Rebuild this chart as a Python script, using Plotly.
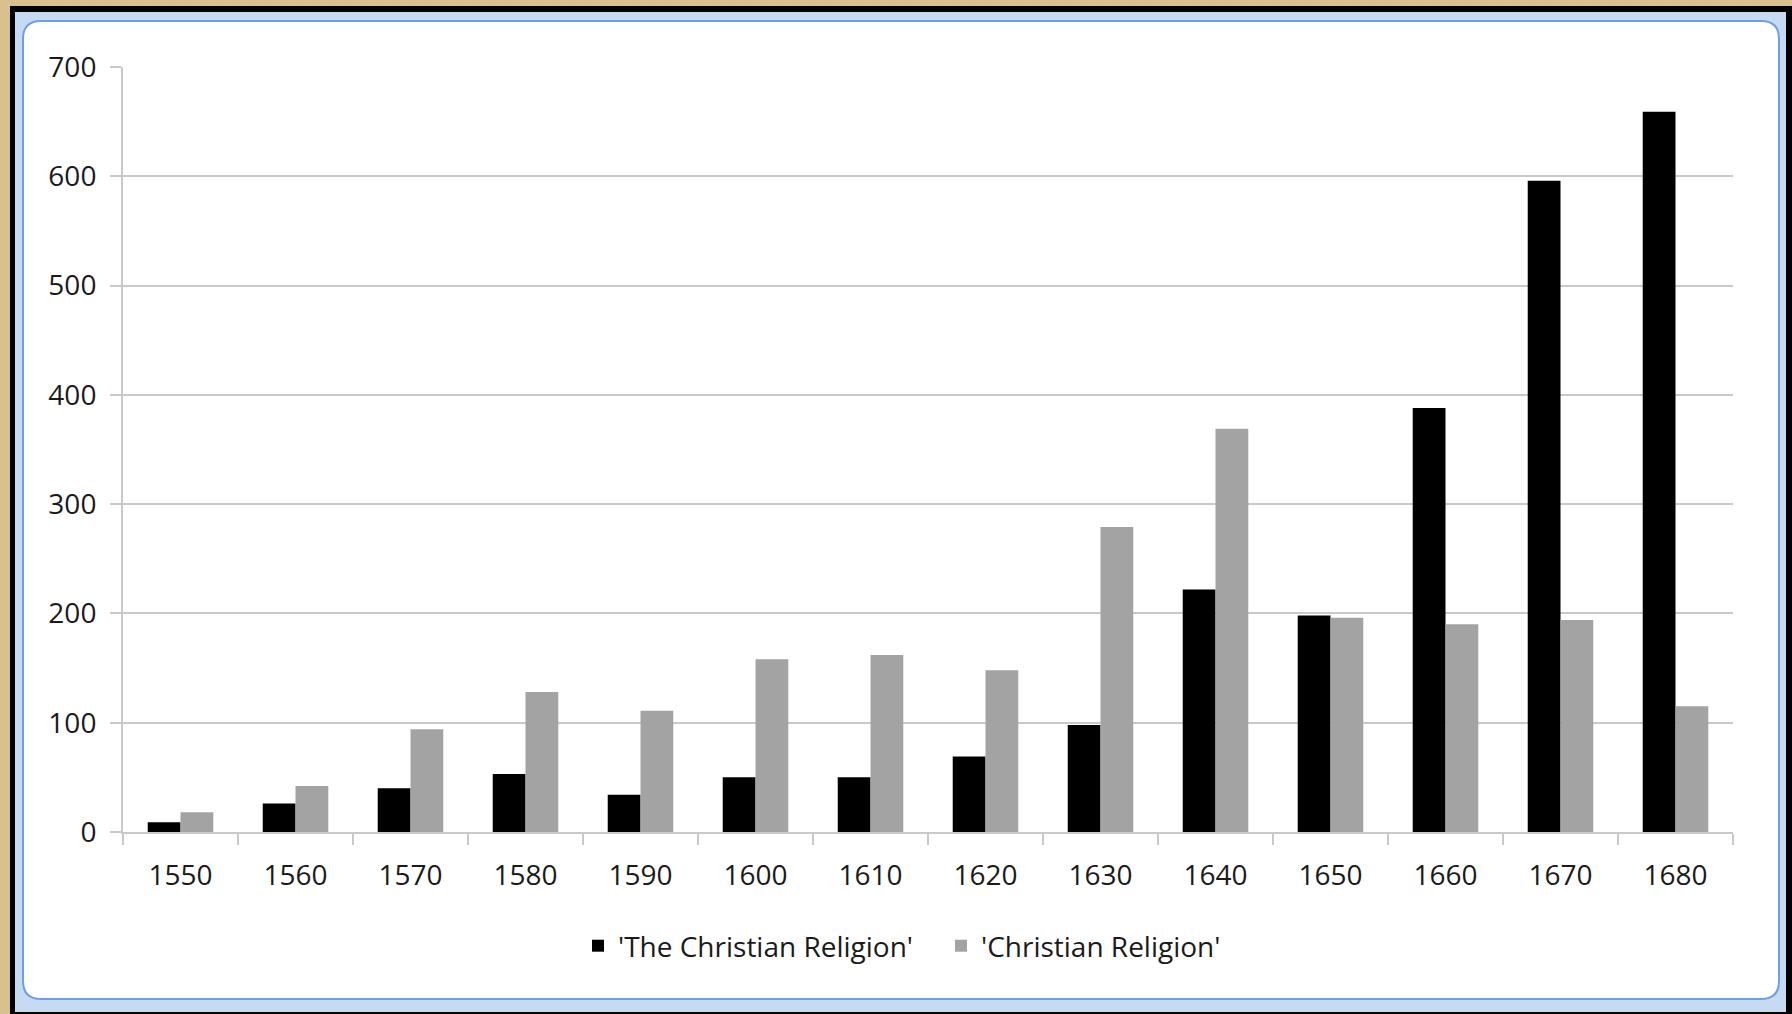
import plotly.graph_objects as go

years = ["1550", "1560", "1570", "1580", "1590", "1600", "1610", "1620",
         "1630", "1640", "1650", "1660", "1670", "1680"]
the_christian_religion = [9, 26, 40, 53, 34, 50, 50, 69, 98, 222, 198, 388, 596, 659]
christian_religion = [18, 42, 94, 128, 111, 158, 162, 148, 279, 369, 196, 190, 194, 115]
series_names = ["'The Christian Religion'", "'Christian Religion'"]
y_ticks = [0, 100, 200, 300, 400, 500, 600, 700]

W, H = 1792, 1014
L, R = 123, 1733   # plot area left / right (px)
T, B = 67, 832     # plot area top / bottom (px)


def px(x):
    return (x - L) / (R - L)


def py(y):
    return (B - y) / (B - T)


def rounded_path(x0, y0, x1, y1, r):
    pts = [
        ("M", [(x0 + r, y0)]),
        ("L", [(x1 - r, y0)]),
        ("Q", [(x1, y0), (x1, y0 + r)]),
        ("L", [(x1, y1 - r)]),
        ("Q", [(x1, y1), (x1 - r, y1)]),
        ("L", [(x0 + r, y1)]),
        ("Q", [(x0, y1), (x0, y1 - r)]),
        ("L", [(x0, y0 + r)]),
        ("Q", [(x0, y0), (x0 + r, y0)]),
    ]
    s = ""
    for cmd, ps in pts:
        s += cmd + " ".join(f"{px(a):.6f},{py(b):.6f}" for a, b in ps)
    return s + "Z"


FONT = "Open Sans, Lato, sans-serif"
GRID = "#c9c9c9"

fig = go.Figure()
fig.add_trace(go.Bar(x=years, y=the_christian_religion, name=series_names[0],
                     marker=dict(color="#000000", line=dict(width=0))))
fig.add_trace(go.Bar(x=years, y=christian_religion, name=series_names[1],
                     marker=dict(color="#a3a3a3", line=dict(width=0))))

shapes = [
    # black frame
    dict(type="rect", xref="paper", yref="paper", layer="below",
         x0=px(10), x1=px(W + 5), y0=py(6), y1=py(H + 5),
         fillcolor="#000000", line=dict(width=0)),
    # light blue window band
    dict(type="rect", xref="paper", yref="paper", layer="below",
         x0=px(15), x1=px(1786), y0=py(12), y1=py(1012),
         fillcolor="#c6dbf2", line=dict(width=0)),
    # white rounded chart area
    dict(type="path", xref="paper", yref="paper", layer="below",
         path=rounded_path(23, 21, 1779, 999, 18),
         fillcolor="#ffffff", line=dict(color="#6f9fe0", width=2)),
]

fig.update_layout(
    width=W, height=H,
    margin=dict(l=L, r=W - R, t=T, b=H - B, autoexpand=False),
    paper_bgcolor="#d8c18d",
    plot_bgcolor="rgba(0,0,0,0)",
    barmode="group", bargap=0.43, bargroupgap=0,
    font=dict(family=FONT, size=28, color="#1a1a1a"),
    shapes=shapes,
    showlegend=True,
    legend=dict(orientation="h", x=px(578), y=py(946), xanchor="left",
                yanchor="middle", font=dict(size=28, family=FONT),
                bgcolor="rgba(0,0,0,0)", itemwidth=30, traceorder="normal",
                entrywidth=318, entrywidthmode="pixels"),
    xaxis=dict(type="category", tickson="boundaries", ticks="outside",
               ticklen=11, tickwidth=2, tickcolor=GRID, showline=True,
               linecolor=GRID, linewidth=2, showgrid=False,
               tickfont=dict(size=28, family=FONT, color="#1a1a1a"),
               ticklabelstandoff=17),
    yaxis=dict(range=[0, 700], tickvals=y_ticks, ticks="outside", ticklen=11,
               tickwidth=2, tickcolor=GRID, showline=True, linecolor=GRID,
               linewidth=2, showgrid=True, gridcolor=GRID, gridwidth=2,
               zeroline=False,
               tickfont=dict(size=28, family=FONT, color="#1a1a1a"),
               ticklabelstandoff=8),
)

fig.write_html("out.html")
